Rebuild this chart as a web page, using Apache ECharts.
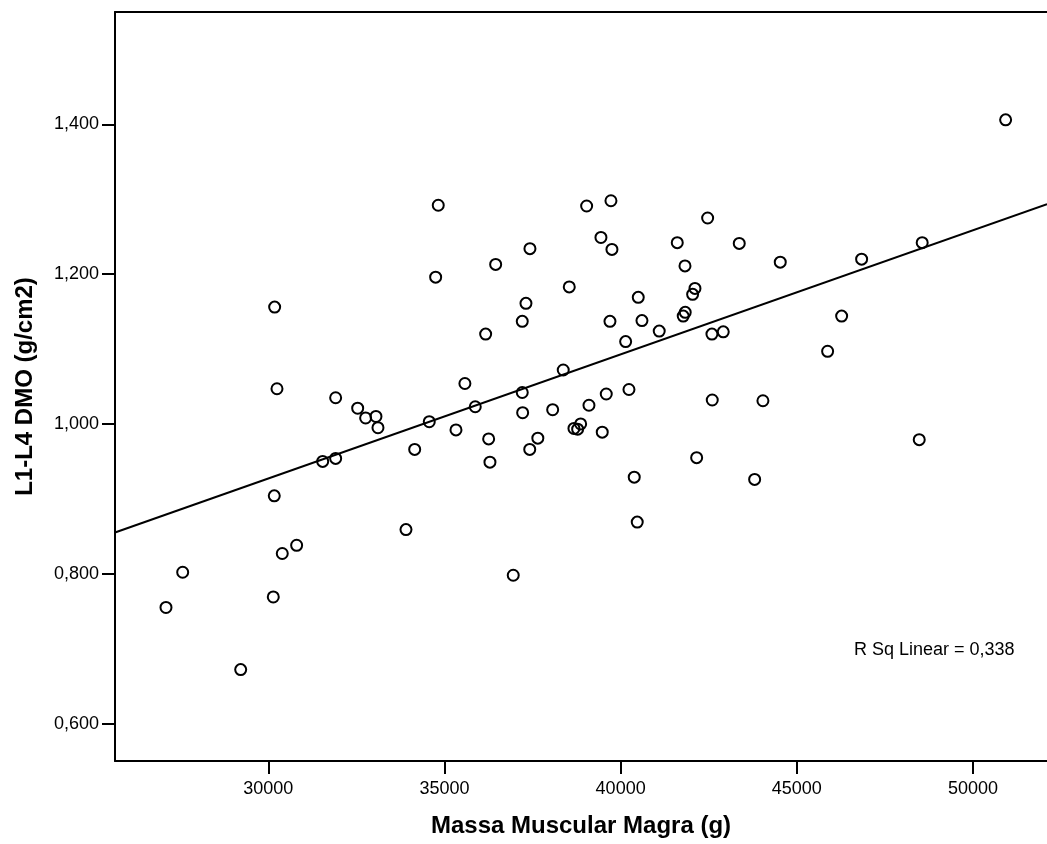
<!DOCTYPE html>
<html>
<head>
<meta charset="utf-8">
<script src="https://cdn.jsdelivr.net/npm/echarts@6/dist/echarts.min.js"></script>
<style>
html,body{margin:0;padding:0;background:#fff;}
#chart{width:1047px;height:844px;}
</style>
</head>
<body>
<div id="chart"></div>
<script>
// Massa Muscular Magra (g)
var massX = [27097,27571,29217,30142,30397,30805,30170,30181,30247,31544,31912,31912,32537,32763,33056,33113,33908,34155,34569,34750,34824,35327,35580,35874,36169,36254,36291,36453,36952,37208,37208,37219,37313,37426,37420,37650,38071,38371,38542,38675,38780,38865,39035,39101,39441,39478,39592,39697,39725,39753,40142,40236,40386,40471,40500,40605,41095,41607,41776,41833,41826,42043,42109,42157,42469,42591,42600,42912,43366,43803,44038,44530,45874,46272,46839,48474,48558,50926];
// L1-L4 DMO (g/cm2)
var dmoY = [0.755,0.802,0.672,0.769,0.827,0.838,0.904,1.156,1.047,0.950,0.954,1.035,1.021,1.008,1.010,0.995,0.859,0.966,1.003,1.196,1.292,0.992,1.054,1.023,1.120,0.980,0.949,1.213,0.798,1.137,1.042,1.015,1.161,1.234,0.966,0.981,1.019,1.072,1.183,0.994,0.993,1.000,1.291,1.025,1.249,0.989,1.040,1.137,1.298,1.233,1.110,1.046,0.929,0.869,1.169,1.138,1.124,1.242,1.144,1.149,1.211,1.173,1.181,0.955,1.275,1.120,1.032,1.123,1.241,0.926,1.031,1.216,1.097,1.144,1.220,0.979,1.242,1.406];
// fitted line end points
var fitX = [25650, 52100];
var fitY = [0.855, 1.2935];
// ticks
var xTicks = [30000, 35000, 40000, 45000, 50000];
var yTicks = [0.6, 0.8, 1.0, 1.2, 1.4];
var rSqText = 'R Sq Linear = 0,338';

var FONT = '"Liberation Sans", Arial, sans-serif';
var pts = massX.map(function(x, i){ return [x, dmoY[i]]; });
var line = fitX.map(function(x, i){ return [x, fitY[i]]; });

var chart = echarts.init(document.getElementById('chart'), null, {renderer:'canvas'});
chart.setOption({
  animation: false,
  backgroundColor: '#fff',
  grid: {left: 115, right: 0, top: 12, bottom: 83, containLabel: false},
  xAxis: [{
    type: 'value', min: 25650, max: 52100, position: 'bottom',
    name: 'Massa Muscular Magra (g)', nameLocation: 'middle', nameGap: 53,
    nameTextStyle: {fontFamily: FONT, fontSize: 24, fontWeight: 'bold', color: '#000'},
    axisLine: {show: true, onZero: false, lineStyle: {color: '#000', width: 2}},
    axisTick: {show: true, inside: false, length: 13, customValues: xTicks, lineStyle: {color: '#000', width: 2}},
    axisLabel: {show: true, margin: 19, customValues: xTicks, fontFamily: FONT, fontSize: 18, color: '#000',
      formatter: function(v){ return String(v); }},
    splitLine: {show: false}
  },{
    type: 'value', min: 25650, max: 52100, position: 'top',
    axisLine: {show: true, onZero: false, lineStyle: {color: '#000', width: 2}},
    axisTick: {show: false}, axisLabel: {show: false}, splitLine: {show: false}
  }],
  yAxis: {
    type: 'value', min: 0.55, max: 1.55,
    name: 'L1-L4 DMO (g/cm2)', nameLocation: 'middle', nameGap: 78, nameRotate: 90,
    nameTextStyle: {fontFamily: FONT, fontSize: 24, fontWeight: 'bold', color: '#000'},
    axisLine: {show: true, onZero: false, lineStyle: {color: '#000', width: 2}},
    axisTick: {show: true, inside: false, length: 13, customValues: yTicks, lineStyle: {color: '#000', width: 2}},
    axisLabel: {show: true, margin: 16, customValues: yTicks, fontFamily: FONT, fontSize: 18, color: '#000',
      formatter: function(v){ return v.toFixed(3).replace('.', ','); }},
    splitLine: {show: false}
  },
  series: [{
    type: 'line', xAxisIndex: 0, data: line, symbol: 'none', silent: true,
    lineStyle: {color: '#000', width: 2}, z: 2
  },{
    type: 'scatter', xAxisIndex: 0, data: pts, symbol: 'circle', symbolSize: 11, silent: true,
    itemStyle: {color: 'rgba(0,0,0,0)', borderColor: '#000', borderWidth: 2, opacity: 1}, z: 3
  }],
  graphic: [{
    type: 'text', x: 854, y: 650,
    style: {text: rSqText, font: '18px ' + FONT, fill: '#000', verticalAlign: 'middle', align: 'left'}
  }]
});
</script>
</body>
</html>
